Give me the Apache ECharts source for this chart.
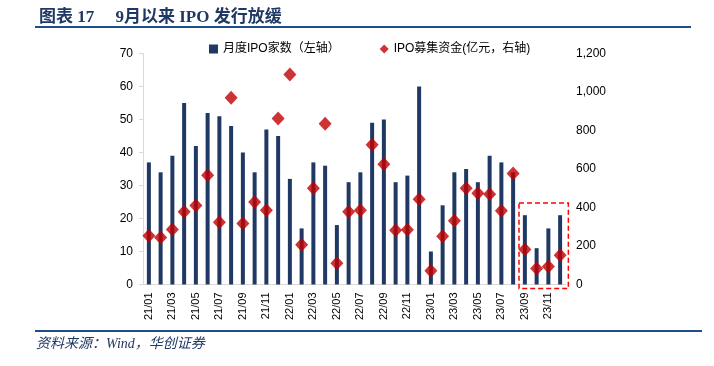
<!DOCTYPE html>
<html>
<head>
<meta charset="utf-8">
<script src="https://cdn.jsdelivr.net/npm/echarts@6/dist/echarts.min.js"></script>
<style>
html,body{margin:0;padding:0;background:#fff;}
#c{width:714px;height:366px;}
</style>
</head>
<body>
<div id="c"></div>
<script>
const categories = ['21/01','21/02','21/03','21/04','21/05','21/06','21/07','21/08','21/09','21/10','21/11','21/12',
  '22/01','22/02','22/03','22/04','22/05','22/06','22/07','22/08','22/09','22/10','22/11','22/12',
  '23/01','23/02','23/03','23/04','23/05','23/06','23/07','23/08','23/09','23/10','23/11','23/12'];
const ipoCount = [37,34,39,55,42,52,51,48,40,34,47,45,
  32,17,37,36,18,31,34,49,50,31,33,60,
  10,24,34,35,31,39,37,34,21,11,17,21];
const ipoFunds = [253,244,286,378,410,568,324,970,317,428,386,862,
  1091,206,500,835,111,378,386,726,625,282,284,443,
  71,251,331,500,474,469,383,577,182,83,93,152];
const leftTicks = {min:0, max:70, interval:10};
const rightTicks = {min:0, max:1200, interval:200};
const titleText = '图表 17\u3000 9月以来 IPO 发行放缓';
const sourceText = '资料来源：Wind，华创证券';
const seriesNames = ['月度IPO家数（左轴）', 'IPO募集资金(亿元，右轴)'];

const chart = echarts.init(document.getElementById('c'), null, {renderer:'canvas'});
const navy = '#203864';
const option = {
  animation: false,
  backgroundColor: '#fff',
  title: {
    text: titleText, left: 34, top: 4,
    textStyle: {fontFamily: '"Liberation Serif","Noto Sans CJK SC",serif', fontWeight: 'bold', fontSize: 17, color: '#1F3864'}
  },
  legend: {
    top: 38, left: 204, itemGap: 40,
    textStyle: {fontFamily: '"Liberation Sans","Noto Sans CJK SC",sans-serif', fontSize: 12, color: '#000'},
    data: [
      {name: seriesNames[0], icon: 'rect', itemStyle:{color: navy}},
      {name: seriesNames[1], icon: 'diamond', itemStyle:{color: '#C00000'}}
    ],
    itemWidth: 9, itemHeight: 9
  },
  grid: {left: 143, right: 148, top: 53.5, bottom: 81.5, containLabel: false},
  xAxis: {
    type: 'category', data: categories,
    axisLine: {lineStyle: {color: '#d9d9d9'}},
    axisTick: {show: false},
    axisLabel: {interval: 1, rotate: 90, fontSize: 11, color: '#000', margin: 8,
      fontFamily: '"Liberation Sans",sans-serif'}
  },
  yAxis: [
    {type: 'value', min: leftTicks.min, max: leftTicks.max, interval: leftTicks.interval,
      axisLine: {show: true, lineStyle: {color: '#d9d9d9'}},
      axisTick: {show: true, length: 4, lineStyle: {color: '#d9d9d9'}},
      splitLine: {show: false},
      axisLabel: {fontSize: 12, color: '#000', margin: 10, fontFamily: '"Liberation Sans",sans-serif'}},
    {type: 'value', min: rightTicks.min, max: rightTicks.max, interval: rightTicks.interval,
      axisLine: {show: false}, axisTick: {show: false}, splitLine: {show: false},
      axisLabel: {fontSize: 12, color: '#000', margin: 10, fontFamily: '"Liberation Sans",sans-serif',
        formatter: v => v.toLocaleString('en-US')}}
  ],
  series: [
    {name: seriesNames[0], type: 'bar', data: ipoCount, barWidth: 4, yAxisIndex: 0,
      itemStyle: {color: navy}},
    {name: seriesNames[1], type: 'scatter', data: ipoFunds, yAxisIndex: 1,
      symbol: 'diamond', symbolSize: [13, 14], itemStyle: {color: '#C00000'}, z: 5}
  ]
};
chart.setOption(option);

// decorations: title and footer rules, and annotation box computed from axis scale
const c0 = chart.convertToPixel({xAxisIndex: 0}, '23/09');
const c1 = chart.convertToPixel({xAxisIndex: 0}, '23/12');
const cPrev = chart.convertToPixel({xAxisIndex: 0}, '23/08');
const band = c0 - cPrev;
const yTop = chart.convertToPixel({yAxisIndex: 0}, 24.7);
const yBase = chart.convertToPixel({yAxisIndex: 0}, 0);
chart.setOption({
  graphic: [
    {type: 'line', shape: {x1: 35, y1: 27, x2: 691, y2: 27}, style: {stroke: '#1F4E8C', lineWidth: 2}},
    {type: 'line', shape: {x1: 35, y1: 331, x2: 702, y2: 331}, style: {stroke: '#1F4E8C', lineWidth: 2}},
    {type: 'text', left: 36, top: 337, style: {text: sourceText, fill: '#1F3864', fontSize: 14, fontStyle: 'italic',
      fontFamily: '"Liberation Serif","Noto Sans CJK SC",serif'}},
    {type: 'rect', shape: {x: c0 - band * 0.5, y: yTop, width: (c1 - c0) + band * 1.2, height: yBase - yTop + 4},
      style: {fill: 'none', stroke: '#FF0000', lineWidth: 1.5, lineDash: [5, 3]}, z: 10}
  ]
});
</script>
</body>
</html>
